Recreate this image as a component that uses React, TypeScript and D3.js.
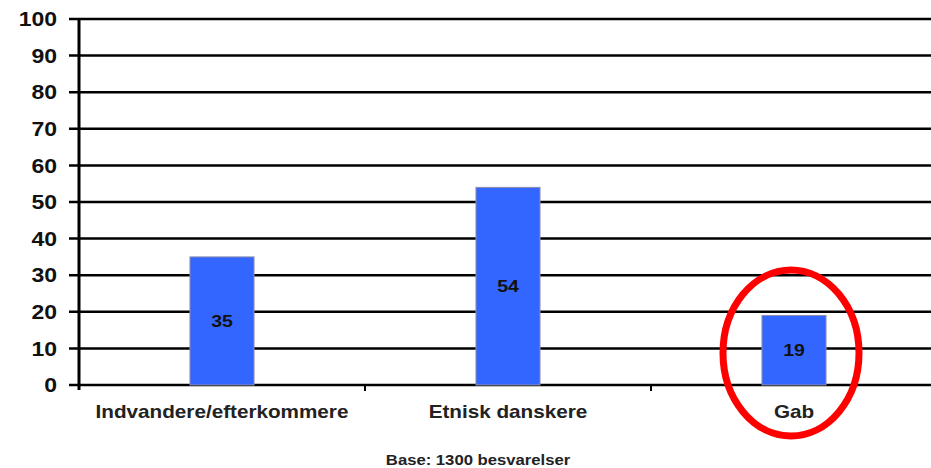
import { scaleBand, scaleLinear } from "d3";

const CATEGORIES = ["Indvandere/efterkommere", "Etnisk danskere", "Gab"];
const VALUES = [35, 54, 19];
const Y_TICKS = [0, 10, 20, 30, 40, 50, 60, 70, 80, 90, 100];
const HIGHLIGHT = "Gab";
const FOOTNOTE = "Base: 1300 besvarelser";

const WIDTH = 931;
const HEIGHT = 468;
const MARGIN = { top: 19, right: -6, bottom: 83, left: 79 };

const FONT = "'Liberation Sans', Arial, sans-serif";
// the source text is slightly stretched horizontally
const STRETCH = 1.15;

export default function App() {
  const innerWidth = WIDTH - MARGIN.left - MARGIN.right;
  const innerHeight = HEIGHT - MARGIN.top - MARGIN.bottom;

  const x = scaleBand<string>().domain(CATEGORIES).range([0, innerWidth]);
  const y = scaleLinear().domain([0, 100]).range([innerHeight, 0]);
  const barWidth = x.bandwidth() * 0.224;

  return (
    <svg
      width={WIDTH}
      height={HEIGHT}
      style={{ position: "absolute", left: 0, top: 0, background: "white" }}
      fontFamily={FONT}
      fontWeight="bold"
    >
      <g transform={`translate(${MARGIN.left},${MARGIN.top})`}>
        {/* gridlines + y labels */}
        {Y_TICKS.map(t => (
          <g key={t} transform={`translate(0,${y(t)})`}>
            <line x1={-10} x2={innerWidth} stroke="#000" strokeWidth={2.5} />
            <g transform={`translate(-22,0) scale(${STRETCH},1)`}>
              <text dy="0.36em" textAnchor="end" fontSize={20} fill="#111">
                {t}
              </text>
            </g>
          </g>
        ))}

        {/* y axis */}
        <line x1={0} x2={0} y1={0} y2={innerHeight + 5} stroke="#000" strokeWidth={3} />

        {/* x category ticks */}
        {CATEGORIES.slice(1).map(c => (
          <line
            key={c}
            x1={x(c)!}
            x2={x(c)!}
            y1={innerHeight}
            y2={innerHeight + 6}
            stroke="#000"
            strokeWidth={2}
          />
        ))}

        {/* bars */}
        {CATEGORIES.map((c, i) => {
          const cx = x(c)! + x.bandwidth() / 2;
          return (
            <g key={c}>
              <rect
                x={cx - barWidth / 2}
                y={y(VALUES[i])}
                width={barWidth}
                height={innerHeight - y(VALUES[i])}
                fill="#3366ff"
                stroke="#8f8fa8"
                strokeWidth={1}
              />
              <g transform={`translate(${cx},${y(VALUES[i] / 2)}) scale(${STRETCH},1)`}>
                <text dy="0.36em" textAnchor="middle" fontSize={17} fill="#111">
                  {VALUES[i]}
                </text>
              </g>
              <g transform={`translate(${cx},${innerHeight + 33}) scale(${STRETCH},1)`}>
                <text textAnchor="middle" fontSize={18} fill="#222">
                  {c}
                </text>
              </g>
            </g>
          );
        })}

        {/* highlight ellipse */}
        <ellipse
          cx={x(HIGHLIGHT)! + x.bandwidth() / 2 - 3}
          cy={y(0) - 32}
          rx={68}
          ry={83}
          fill="none"
          stroke="#ff0000"
          strokeWidth={7}
        />
      </g>

      <g transform={`translate(478,465) scale(${STRETCH},1)`}>
        <text textAnchor="middle" fontSize={14.5} fill="#222">
          {FOOTNOTE}
        </text>
      </g>
    </svg>
  );
}
